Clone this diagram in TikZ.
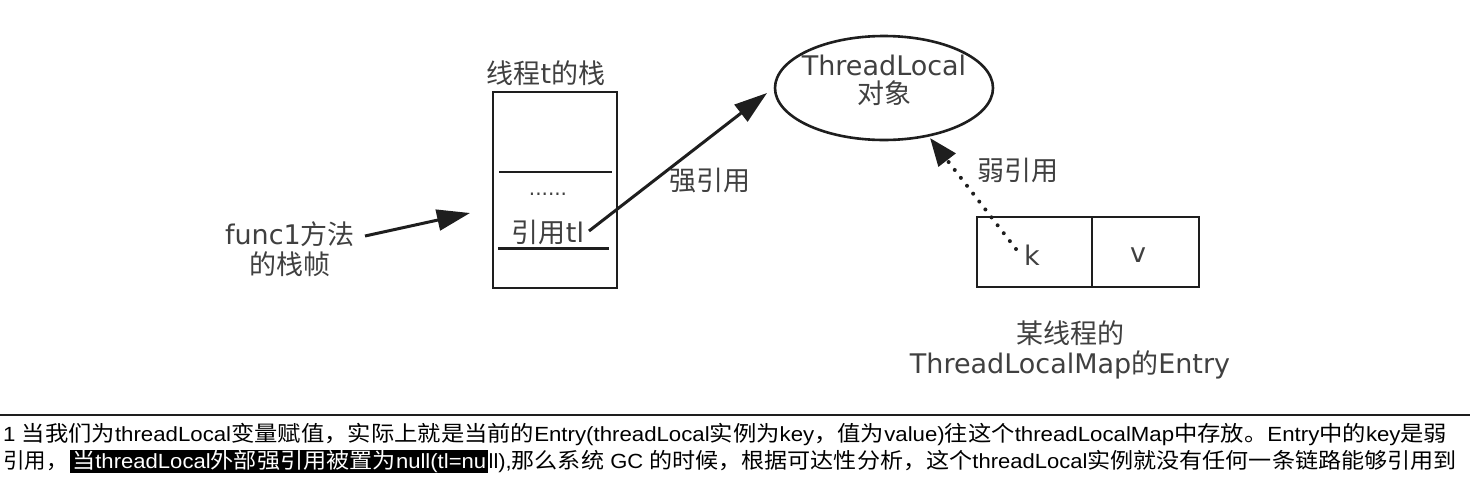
\documentclass[tikz,border=0pt]{standalone}
\usepackage{fontspec}
\usepackage{graphicx}
\setmainfont{DejaVu Sans}
\newfontfamily\zhf{Noto Sans CJK SC}
\newfontfamily\arl{Liberation Sans}
\usetikzlibrary{arrows.meta,shapes.geometric}
\definecolor{tx}{HTML}{404040}
\definecolor{ln}{HTML}{1E1E1E}
\newcommand\Z[1]{{\zhf #1}}
\newcommand\B[1]{{\zhf\fontsize{21.5}{24}\selectfont #1}}
\begin{document}
\begin{tikzpicture}[x=1pt,y=-1pt,
  lbl/.style={text=tx,inner sep=0pt,font=\fontsize{27}{30}\selectfont,align=center},
  cell/.style={draw=ln,line width=2.8pt,inner sep=0pt},
  arr/.style={draw=ln,line width=3pt,-{Triangle[length=33pt,width=21pt]}},
  weak/.style={draw=ln,line width=4pt,line cap=round,dash pattern=on 0pt off 10pt,-{Triangle[length=28pt,width=21pt]}},
  body/.style={inner sep=0pt,font=\arl\fontsize{20.5}{24}\selectfont,text=black},
  hl/.style={body,fill=black,text=white,inner xsep=2pt,text height=18.5pt,text depth=4.5pt}]
\useasboundingbox (0,0) rectangle (1470,485);
\fill[white] (0,0) rectangle (1470,485);

% stack
\node[lbl] (title) at (546,73) {\Z{线程}t\Z{的栈}};
\node[cell,minimum width=124pt,minimum height=196pt] (stack) at (555,190) {};
\draw[ln,line width=2.8pt] (499,172) -- (612,172);
\draw[ln,line width=3pt] (498,248) -- (609,248);
\node[lbl,font=\fontsize{20}{22}\selectfont] (dots) at (548,194) {......};
\node[lbl] (reftl) at (548,232) {\Z{引用}tl};

% func1
\node[lbl] (func) at (290,249) {func1\Z{方法}\\\Z{的栈帧}};
\coordinate (fstart) at (365,236);
\coordinate (ftip) at (470,213);
\draw[arr] (fstart) -- (ftip);

% ThreadLocal
\node[draw=ln,line width=2.6pt,ellipse,minimum width=218pt,minimum height=104pt,inner sep=0pt] (tl) at (884,88) {};
\node[lbl] (tltext) at (884,80) {ThreadLocal\\[-2pt]\Z{对象}};
\coordinate (sstart) at (589,231);
\coordinate (stip) at (767,93);
\draw[arr] (sstart) -- (stip);
\node[lbl] (strong) at (710,180) {\Z{强引用}};

% entry
\node[cell,minimum width=115pt,minimum height=70pt] (kcell) at (1034.5,252) {};
\node[cell,minimum width=107pt,minimum height=70pt] (vcell) at (1145.5,252) {};
\node[lbl] (k) at (1032,255) {k};
\node[lbl] (v) at (1138,255) {v};
\coordinate (wstart) at (1016,249);
\coordinate (wtip) at (930,138);
\draw[weak] (wstart) -- (wtip);
\node[lbl] (weaklbl) at (1018,170) {\Z{弱引用}};
\node[lbl] (cap) at (1070,350) {\Z{某线程的}\\ThreadLocalMap\Z{的}Entry};

% separator and text
\draw[ln,line width=2pt] (0,415) -- (1470,415);
\node[body,anchor=base west] (l1) at (3,441) {\resizebox{1444pt}{\height}{1 \B{当我们为}threadLocal\B{变量赋值，实际上就是当前的}Entry(threadLocal\B{实例为}key\B{，值为}value)\B{往这个}threadLocalMap\B{中存放。}Entry\B{中的}key\B{是弱}}};
\node[body,anchor=base west] (l2a) at (3,468) {\B{引用，}};
\node[hl,anchor=base west] (l2b) at (70,468) {\resizebox{414pt}{\height}{\B{当}threadLocal\B{外部强引用被置为}null(tl=nu}};
\node[body,anchor=base west] (l2c) at (l2b.base east) {\resizebox{968pt}{\height}{ll),\B{那么系统} GC \B{的时候，根据可达性分析，这个}threadLocal\B{实例就没有任何一条链路能够引用到}}};
\end{tikzpicture}
\end{document}
